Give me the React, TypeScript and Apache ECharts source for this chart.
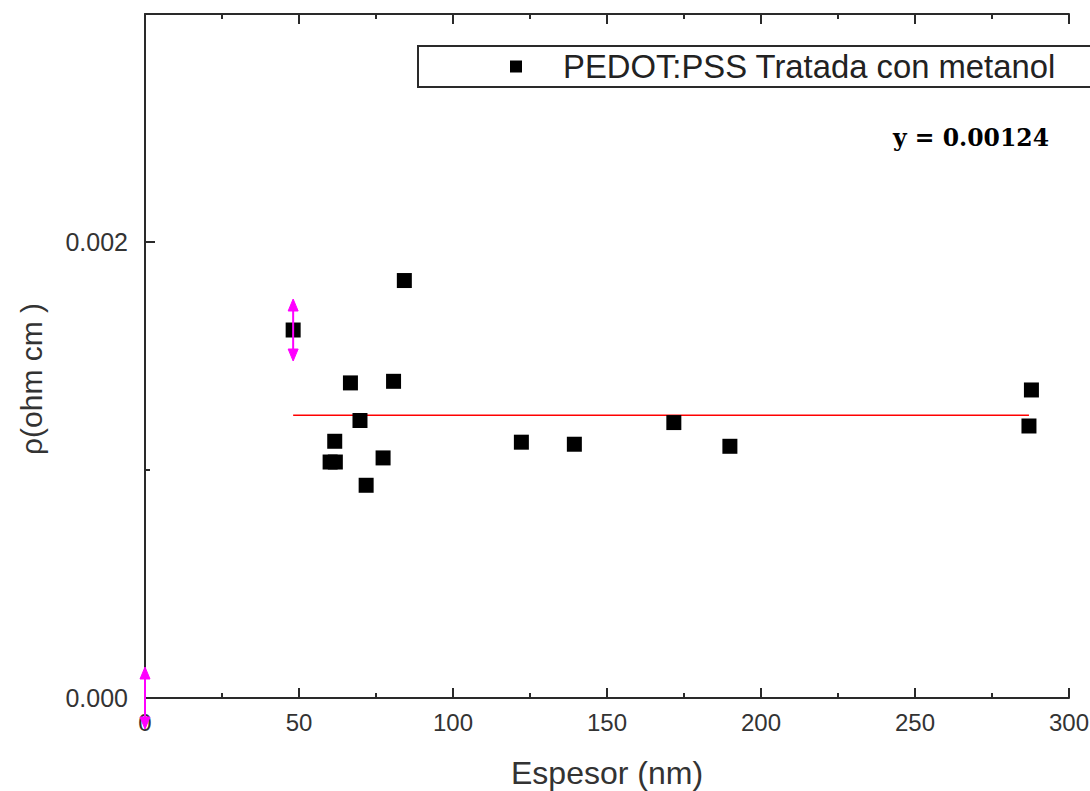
import React, { useEffect, useRef } from "react";
import * as echarts from "echarts";

const seriesName = "PEDOT:PSS Tratada con metanol";
const thicknessNm = [48.1, 84.2, 66.7, 80.7, 69.8, 61.6, 60.1, 61.8, 77.3, 71.8, 122.2, 139.4, 171.7, 189.9, 287.8, 287.0];
const resistivity = [0.001614, 0.001831, 0.001382, 0.001389, 0.001217, 0.001126, 0.001035, 0.001035, 0.001053, 0.000933, 0.001122, 0.001113, 0.001208, 0.001104, 0.001351, 0.001193];
const errX = [48.1, 0];
const errY = [0.001614, 0];
const errD = [0.000136, 0.000136];
const fitX = [48.1, 287.0];
const fitY = [0.00124, 0.00124];
const fitLabel = "y = 0.00124";
const xTitle = "Espesor (nm)";
const yTitle = "ρ(ohm cm )";

const SANS = "'Liberation Sans', Arial, sans-serif";
const AX = "#2a2a2a";

export default function App() {
  const ref = useRef<HTMLDivElement>(null);
  useEffect(() => {
    if (!ref.current) return;
    const chart = echarts.init(ref.current, null, { renderer: "svg" });
    const scatterData = thicknessNm.map((x, i) => [x, resistivity[i]]);
    const errData = errX.map((x, i) => [x, errY[i], errD[i]]);
    const fitData = fitX.map((x, i) => [x, fitY[i]]);
    const magenta = "#ff00ff";
    chart.setOption({
      animation: false,
      backgroundColor: "#fff",
      textStyle: { fontFamily: SANS },
      grid: { left: 145, right: 21, top: 14, bottom: 93, containLabel: false, outerBoundsMode: "none" },
      legend: {
        data: [{ name: seriesName, icon: "rect", itemStyle: { color: "#000", opacity: 1 } }],
        left: 418,
        top: 46,
        itemWidth: 12,
        itemHeight: 12,
        padding: [4, 60, 4, 92],
        borderColor: AX,
        borderWidth: 2,
        backgroundColor: "#fff",
        selectedMode: false,
        textStyle: { fontSize: 32.8, color: "#222", fontFamily: SANS, padding: [0, 0, 0, 36] },
      },
      xAxis: [
        {
          type: "value",
          position: "bottom",
          min: 0,
          max: 300,
          interval: 50,
          name: xTitle,
          nameLocation: "middle",
          nameGap: 59,
          nameTextStyle: { fontSize: 32, color: "#333", fontFamily: SANS },
          axisLine: { show: true, onZero: false, lineStyle: { color: AX, width: 2 } },
          axisTick: { show: true, inside: true, length: 10, lineStyle: { color: AX, width: 2 } },
          minorTick: { show: true, splitNumber: 2, length: 5, lineStyle: { color: AX, width: 2 } },
          axisLabel: { fontSize: 24, color: "#333", margin: 12, fontFamily: SANS },
          splitLine: { show: false },
        },
        {
          type: "value",
          position: "top",
          min: 0,
          max: 300,
          interval: 50,
          axisLine: { show: true, onZero: false, lineStyle: { color: AX, width: 2 } },
          axisTick: { show: true, inside: true, length: 10, lineStyle: { color: AX, width: 2 } },
          minorTick: { show: true, splitNumber: 2, length: 5, lineStyle: { color: AX, width: 2 } },
          axisLabel: { show: false },
          splitLine: { show: false },
        },
      ],
      yAxis: [
        {
          type: "value",
          position: "left",
          min: 0,
          max: 0.003,
          interval: 0.002,
          axisLine: { show: true, onZero: false, lineStyle: { color: AX, width: 2 } },
          axisTick: { show: true, inside: true, length: 10, lineStyle: { color: AX, width: 2 } },
          axisLabel: {
            fontSize: 25,
            color: "#333",
            margin: 17,
            fontFamily: SANS,
            formatter: (v: number) => (Math.abs(v) < 1e-9 ? "0.000" : Math.abs(v - 0.002) < 1e-9 ? "0.002" : ""),
          },
          splitLine: { show: false },
        },
        {
          type: "value",
          position: "left",
          min: 0,
          max: 0.003,
          interval: 0.001,
          axisLine: { show: false },
          axisTick: { show: true, inside: true, length: 5, lineStyle: { color: AX, width: 2 } },
          axisLabel: { show: false },
          splitLine: { show: false },
        },
      ],
      series: [
        {
          type: "line",
          name: "fit",
          data: fitData,
          symbol: "none",
          lineStyle: { color: "#ff0000", width: 1.5 },
          z: 2,
        },
        {
          type: "scatter",
          name: seriesName,
          data: scatterData,
          symbol: "rect",
          symbolSize: 15,
          itemStyle: { color: "#000", opacity: 1 },
          z: 3,
        },
        {
          type: "custom",
          name: "err",
          data: errData,
          clip: false,
          z: 4,
          renderItem: (params: any, api: any) => {
            const x = api.value(0);
            const y = api.value(1);
            const e = api.value(2);
            const t = api.coord([x, y + e]);
            const b = api.coord([x, y - e]);
            const style = { fill: magenta, stroke: magenta, lineWidth: 1 };
            return {
              type: "group",
              children: [
                { type: "line", shape: { x1: t[0], y1: t[1] + 4, x2: b[0], y2: b[1] - 4 }, style: { stroke: magenta, lineWidth: 2 } },
                { type: "polygon", shape: { points: [[t[0], t[1]], [t[0] - 5, t[1] + 12], [t[0] + 5, t[1] + 12]] }, style },
                { type: "polygon", shape: { points: [[b[0], b[1]], [b[0] - 5, b[1] - 12], [b[0] + 5, b[1] - 12]] }, style },
              ],
            };
          },
        },
      ],
      graphic: [
        {
          type: "text",
          left: 893,
          top: 126,
          style: { text: fitLabel, font: "bold 23.5px 'DejaVu Serif', serif", fill: "#000" },
        },
        {
          type: "text",
          x: 31,
          y: 379,
          rotation: Math.PI / 2,
          style: { text: yTitle, fontSize: 30, fontFamily: SANS, fill: "#333", align: "center", verticalAlign: "middle" },
        },
      ],
    });
    return () => chart.dispose();
  }, []);
  return <div ref={ref} style={{ position: "fixed", left: 0, top: 0, width: 1090, height: 791 }} />;
}
